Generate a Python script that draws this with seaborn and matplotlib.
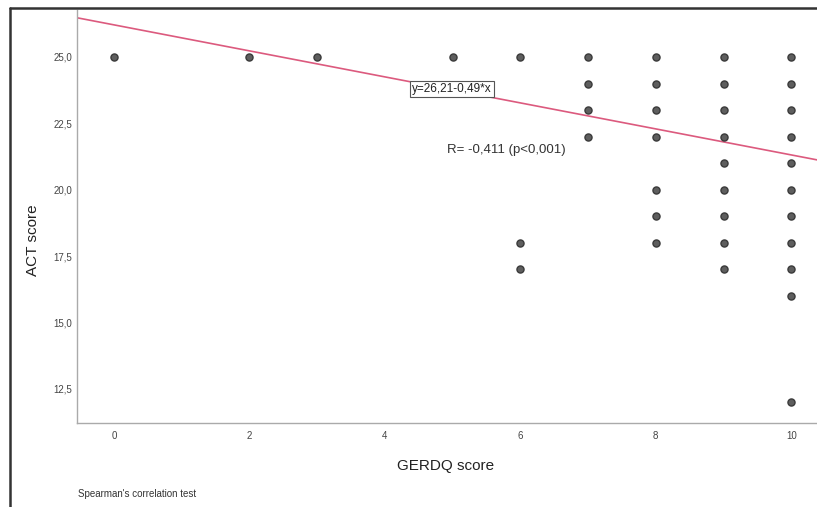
import numpy as np
import pandas as pd
import matplotlib
matplotlib.use("Agg")
import matplotlib.pyplot as plt
import seaborn as sns
from matplotlib.lines import Line2D

sns.set_theme(style="white")
plt.rcParams["font.family"] = ["Liberation Sans", "DejaVu Sans"]

# GERDQ score vs ACT score (one point per distinct value pair)
gerdq = [0, 2, 3, 5,
         6, 6, 6,
         7, 7, 7, 7,
         8, 8, 8, 8, 8, 8, 8,
         9, 9, 9, 9, 9, 9, 9, 9, 9,
         10, 10, 10, 10, 10, 10, 10, 10, 10, 10, 10]
act = [25, 25, 25, 25,
       25, 18, 17,
       25, 24, 23, 22,
       25, 24, 23, 22, 20, 19, 18,
       25, 24, 23, 22, 21, 20, 19, 18, 17,
       25, 24, 23, 22, 21, 20, 19, 18, 17, 16, 12]

intercept = 26.21
slope = -0.49
x_ticks = [0, 2, 4, 6, 8, 10]
y_ticks = [12.5, 15.0, 17.5, 20.0, 22.5, 25.0]

df = pd.DataFrame({"GERDQ": gerdq, "ACT": act})

fig = plt.figure(figsize=(8.17, 5.07), dpi=100)
ax = fig.add_axes([77 / 817, 1 - 423 / 507, 1 - 77 / 817, (423 - 10) / 507])

sns.scatterplot(data=df, x="GERDQ", y="ACT", ax=ax, s=26,
                color="#5e5e5e", edgecolor="#3a3a3a", linewidth=1.0, zorder=3)

xlim = (-0.546, 10.38)
ax.set_xlim(*xlim)
ax.set_ylim(11.21, 26.77)
xs = np.array(xlim)
ax.plot(xs, intercept + slope * xs, color="#dc5a7e", linewidth=1.2, zorder=2)

ax.set_xticks(x_ticks)
ax.set_xticklabels([str(t) for t in x_ticks])
ax.set_yticks(y_ticks)
ax.set_yticklabels([f"{t:.1f}".replace(".", ",") for t in y_ticks])
ax.tick_params(axis="both", length=0, labelsize=7, colors="#444444")
ax.tick_params(axis="x", pad=6)
ax.tick_params(axis="y", pad=3.5)

for side in ["top", "right"]:
    ax.spines[side].set_visible(False)
for side in ["left", "bottom"]:
    ax.spines[side].set_color("#aaaaaa")
    ax.spines[side].set_linewidth(1.0)

ax.set_xlabel("")
ax.set_ylabel("")
fig.text(446 / 817, 1 - 466 / 507, "GERDQ score", ha="center", va="center",
         fontsize=11, color="#222222")
fig.text(33 / 817, 1 - 240 / 507, "ACT score", ha="center", va="center",
         rotation=90, fontsize=11, color="#222222")

ax.text(4.40, 23.79, "y=26,21-0,49*x", fontsize=8.5, color="#222222",
        ha="left", va="center",
        bbox=dict(boxstyle="square,pad=0.2", facecolor="white",
                  edgecolor="#555555", linewidth=0.8), zorder=4)
ax.text(4.92, 21.49, "R= -0,411 (p<0,001)", fontsize=9.5, color="#333333",
        ha="left", va="center")

fig.text(78 / 817, 1 - 494 / 507, "Spearman's correlation test", fontsize=7,
         color="#333333", ha="left", va="center")

# outer frame
fig.add_artist(Line2D([10 / 817, 10 / 817], [0, 1 - 8 / 507],
                      transform=fig.transFigure, color="#333333", linewidth=1.8))
fig.add_artist(Line2D([10 / 817, 1], [1 - 8 / 507, 1 - 8 / 507],
                      transform=fig.transFigure, color="#333333", linewidth=1.8))

fig.savefig("out.png", dpi=100)
